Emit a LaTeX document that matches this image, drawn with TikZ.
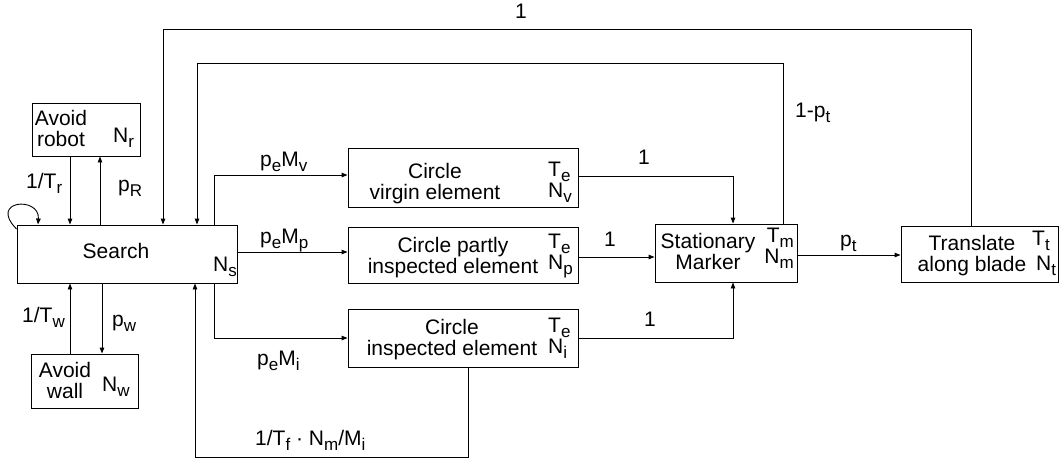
\documentclass[tikz,border=0pt]{standalone}
\usepackage{fontspec}
\setmainfont{Liberation Sans}
\usetikzlibrary{arrows.meta}

% lowered index text
\newcommand{\subtxt}[1]{\raisebox{-0.25em}{\fontsize{17}{17}\selectfont #1}}

\begin{document}
\begin{tikzpicture}[x=1pt,y=-1pt,
  font=\fontsize{21}{21}\selectfont,
  box/.style={draw, line width=0.9pt, inner sep=0},
  txt/.style={inner sep=0, align=center, anchor=north},
  tn/.style={inner sep=0, align=left, anchor=north west},
  lbl/.style={inner sep=0, anchor=base west},
  arr/.style={line width=0.9pt, -{Triangle[length=6pt,width=4.5pt]}},
  conn/.style={line width=0.9pt}]

\useasboundingbox (0,0) rectangle (1059,461);

% Boxes
\node[box, minimum width=108, minimum height=53] (robot) at (86,129.5) {};
\node[box, minimum width=220, minimum height=58] (search) at (127,254) {};
\node[box, minimum width=107, minimum height=54] (wall) at (84.5,381) {};
\node[box, minimum width=230, minimum height=59] (virgin) at (463,177.5) {};
\node[box, minimum width=230, minimum height=56] (partly) at (463,255) {};
\node[box, minimum width=230, minimum height=58] (insp) at (463,338) {};
\node[box, minimum width=142, minimum height=58] (marker) at (726,253) {};
\node[box, minimum width=157, minimum height=56] (translate) at (979.5,254) {};

% Texts in the boxes
\node[txt] (robot-t) at (61,110) {Avoid\\robot};
\node[tn] (robot-n) at (113,128) {N\subtxt{r}};
\node[txt] (search-t) at (116,243) {Search};
\node[tn] (search-n) at (213,257) {N\subtxt{s}};
\node[txt] (wall-t) at (65,362) {Avoid\\wall};
\node[tn] (wall-n) at (102,377) {N\subtxt{w}};
\node[txt] (virgin-t) at (435,163) {Circle\\virgin element};
\node[tn] (virgin-n) at (548,162) {T\subtxt{e}\\N\subtxt{v}};
\node[txt] (partly-t) at (453,237) {Circle partly\\inspected element};
\node[tn] (partly-n) at (548,234) {T\subtxt{e}\\N\subtxt{p}};
\node[txt] (insp-t) at (452,319) {Circle\\inspected element};
\node[tn] (insp-n) at (548,318) {T\subtxt{e}\\N\subtxt{i}};
\node[txt] (marker-t) at (708,233) {Stationary\\Marker};
\node[tn, align=right, anchor=north east] (marker-n) at (794,228) {T\subtxt{m}\\N\subtxt{m}};
\node[txt] (translate-t) at (972,235) {Translate\\along blade};
\node[tn] (translate-tt) at (1032,231) {T\subtxt{t}};
\node[tn] (translate-nt) at (1036,256) {N\subtxt{t}};

% Avoid robot / avoid wall
\draw[arr] (robot.south -| 70,0) -- (search.north -| 70,0);
\draw[arr] (search.north -| 100,0) -- (robot.south -| 100,0);
\draw[arr] (wall.north -| 70,0) -- (search.south -| 70,0);
\draw[arr] (search.south -| 102,0) -- (wall.north -| 102,0);
\draw[arr] (search.west |- 0,229) .. controls (-12,200) and (40,196) .. (search.north -| 38,0);

% Search to the circle boxes
\draw[arr] (search.north -| 214,0) |- (virgin.west |- 0,175);
\draw[arr] (search.east |- 0,252) -- (partly.west |- 0,252);
\draw[arr] (search.south -| 214,0) |- (insp.west);
\draw[arr] (insp.south -| 468,0) -- ++(0,90) -| (search.south -| 195,0);

% Circle boxes to the marker
\draw[arr] (virgin.east |- 0,176) -| (marker.north -| 733,0);
\draw[arr] (partly.east |- 0,257) -- (marker.west |- 0,257);
\draw[arr] (insp.east) -| (marker.south -| 733,0);

% Marker, translate and the way back
\draw[arr] (marker.east |- 0,255) -- (translate.west |- 0,255);
\draw[arr] (marker.north -| 783,0) -- ++(0,-160) -| (search.north -| 197,0);
\draw[arr] (translate.north -| 971,0) -- ++(0,-196) -| (search.north -| 163,0);

% Labels
\node[lbl] (l-tr) at (26,188) {1/T\subtxt{r}};
\node[lbl] (l-pr) at (118,191) {p\subtxt{R}};
\node[lbl] (l-tw) at (22,322) {1/T\subtxt{w}};
\node[lbl] (l-pw) at (112,326) {p\subtxt{w}};
\node[lbl] (l-mv) at (260,166) {p\subtxt{e}M\subtxt{v}};
\node[lbl] (l-mp) at (260,243) {p\subtxt{e}M\subtxt{p}};
\node[lbl] (l-mi) at (257,365) {p\subtxt{e}M\subtxt{i}};
\node[lbl] (l-tf) at (255,445) {1/T\subtxt{f} · N\subtxt{m}/M\subtxt{i}};
\node[lbl, anchor=base] (l-1v) at (644,164) {1};
\node[lbl, anchor=base] (l-1p) at (610,246) {1};
\node[lbl, anchor=base] (l-1i) at (650,326) {1};
\node[lbl] (l-npt) at (795,117) {1-p\subtxt{t}};
\node[lbl] (l-pt) at (840,246) {p\subtxt{t}};
\node[lbl, anchor=base] (l-1t) at (521,18) {1};

\end{tikzpicture}
\end{document}
